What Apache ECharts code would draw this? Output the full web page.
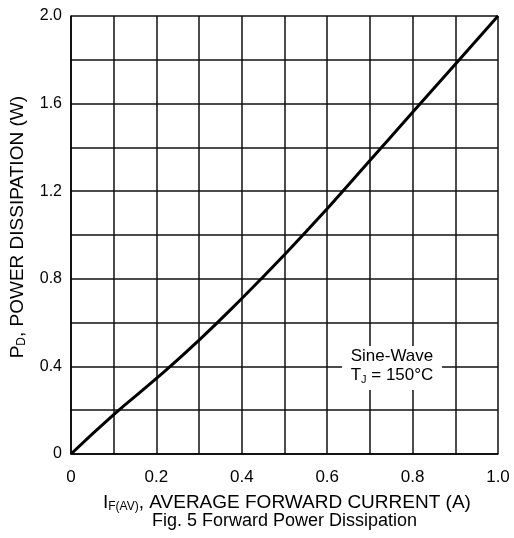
<!DOCTYPE html>
<html>
<head>
<meta charset="utf-8">
<script src="https://cdn.jsdelivr.net/npm/echarts@6/dist/echarts.min.js"></script>
<style>
  html, body { margin: 0; padding: 0; background: #fff; }
  #container { width: 514px; height: 538px; }
</style>
</head>
<body>
<div id="container"></div>
<script>
// forward current (A) and power dissipation (W)
var current = [0, 0.1, 0.2, 0.3, 0.4, 0.5, 0.6, 0.7, 0.8, 0.9, 1.0];
var power = [0, 0.18, 0.345, 0.52, 0.71, 0.91, 1.12, 1.34, 1.56, 1.78, 2.0];
var xTickLabels = ['0', '0.2', '0.4', '0.6', '0.8', '1.0'];
var yTickLabels = ['0', '0.4', '0.8', '1.2', '1.6', '2.0'];

var font = 'Liberation Sans, Arial, sans-serif';
var dom = document.getElementById('container');
var myChart = echarts.init(dom);

var seriesData = [];
for (var i = 0; i < current.length; i++) {
  seriesData.push([current[i], power[i]]);
}

// only show the labels listed above, grid lines stay at every step
function pickLabel(list) {
  return function (v) {
    var s = v.toFixed(1);
    for (var j = 0; j < list.length; j++) {
      if (parseFloat(list[j]).toFixed(1) === s) return list[j];
    }
    return '';
  };
}

var sub = function (size, lh, pad) {
  return {
    n: { fontSize: size, fontFamily: font, fill: '#000', lineHeight: lh },
    s: { fontSize: Math.round(size * 0.62), fontFamily: font, fill: '#000', padding: [pad, 0, 0, 0], lineHeight: lh }
  };
};

var option = {
  animation: false,
  grid: { left: 71, right: 16, top: 16, bottom: 84 },
  xAxis: {
    type: 'value',
    min: 0, max: 1.0, interval: 0.1,
    axisLine: { show: true, lineStyle: { color: '#000', width: 1.5 } },
    axisTick: { show: false },
    axisLabel: {
      formatter: pickLabel(xTickLabels),
      color: '#000', fontFamily: font, fontSize: 17, margin: 15
    },
    splitLine: { show: true, lineStyle: { color: '#111', width: 1.5 } }
  },
  yAxis: {
    type: 'value',
    min: 0, max: 2.0, interval: 0.2,
    axisLine: { show: true, lineStyle: { color: '#000', width: 1.5 } },
    axisTick: { show: false },
    axisLabel: {
      formatter: pickLabel(yTickLabels),
      color: '#000', fontFamily: font, fontSize: 16, margin: 9
    },
    splitLine: { show: true, lineStyle: { color: '#111', width: 1.5 } }
  },
  series: [{
    type: 'line',
    data: seriesData,
    smooth: true,
    symbol: 'none',
    lineStyle: { color: '#000', width: 3 },
    z: 3
  }],
  graphic: [
    {
      type: 'rect', left: 342, top: 346, z: 10,
      shape: { width: 100, height: 44 },
      style: { fill: '#fff' }
    },
    {
      type: 'text', z: 11,
      style: {
        text: '{n|Sine-Wave}\n{n|T}{s|J}{n| = 150°C}',
        x: 392, y: 366, align: 'center', verticalAlign: 'middle',
        rich: sub(17, 19, 9)
      }
    },
    {
      type: 'text', z: 11, left: 103, top: 492,
      style: {
        text: '{n|I}{s|F(AV)}{n|, AVERAGE FORWARD CURRENT (A)}',
        rich: sub(19, 20, 9)
      }
    },
    {
      type: 'text', z: 11, left: 152, top: 512,
      style: {
        text: 'Fig. 5 Forward Power Dissipation',
        fontSize: 18, fontFamily: font, fill: '#000'
      }
    },
    {
      type: 'text', z: 11, left: 7, top: 96,
      style: {
        text: '{n|P}{s|D}{n|, POWER DISSIPATION (W)}',
        rich: sub(19, 20, 9)
      },
      rotation: Math.PI / 2
    }
  ]
};

myChart.setOption(option);
</script>
</body>
</html>
